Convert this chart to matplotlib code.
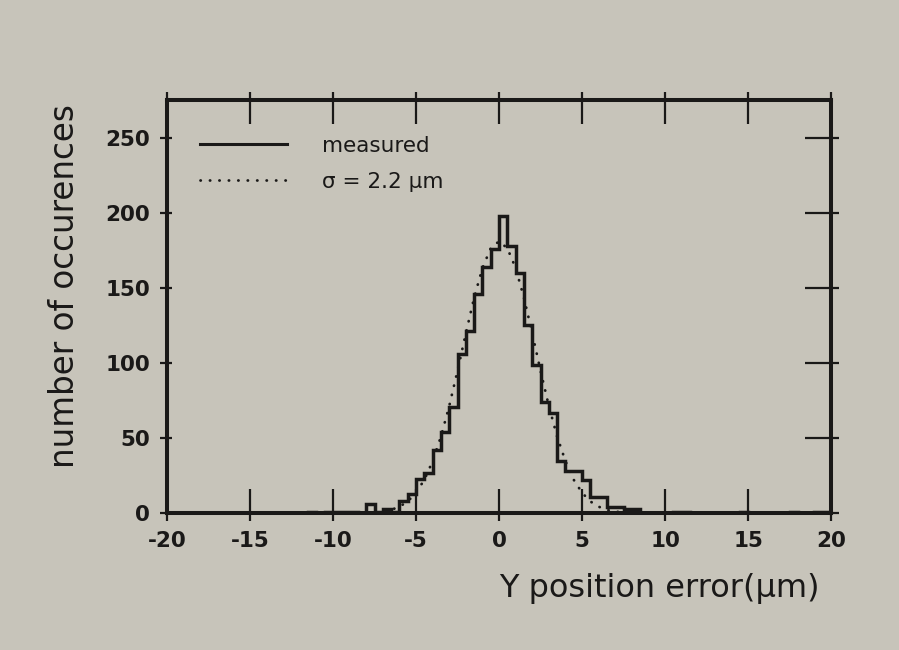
import matplotlib.pyplot as plt
import numpy as np
from matplotlib.ticker import FixedLocator
from matplotlib.lines import Line2D

plt.rcParams['font.family'] = ['DejaVu Sans']

# histogram, 0.5 um bins starting at -12 um
bin_width = 0.5
first_edge = -12.0
counts = [
    0, 1, 0, 1, 1, 1, 1, 0,            # -12.0 .. -8.5
    6, 1, 3, 1, 8, 13, 23, 27,         # -8.0 .. -4.5
    42, 54, 71, 106, 121, 146, 164, 176,  # -4.0 .. -0.5
    198, 178, 160, 125, 99, 74, 67, 35,   # 0.0 .. 3.5
    28, 28, 22, 11, 11, 4, 4, 3,       # 4.0 .. 7.5
    3, 0, 0, 0, 0, 1, 1, 0,            # 8.0 .. 11.5
    0, 0, 0, 0, 0, 1, 0, 0,            # 12.0 .. 15.5
    0, 0, 0, 1, 0, 0, 1, 1,            # 16.0 .. 19.5
]
edges = first_edge + bin_width * np.arange(len(counts) + 1)

# dotted fit curve, read every 0.5 um
gauss_x = np.arange(-8, 8.01, 0.5)
gauss_y = [0.2, 0.5, 1.2, 2.3, 4.4, 7.9, 13.7, 22.3, 34.7, 51.1, 71.4,
           94.9, 119.7, 143.5, 163.2, 176.4, 181.0, 176.4, 163.2, 143.5,
           119.7, 94.9, 71.4, 51.1, 34.7, 22.3, 13.7, 7.9, 4.4, 2.3,
           1.2, 0.5, 0.2]

xticks = [-20, -15, -10, -5, 0, 5, 10, 15, 20]
yticks = [0, 50, 100, 150, 200, 250]
legend_labels = ['measured', 'σ = 2.2 μm']

bg = '#c7c4ba'
ink = '#1a1918'

fig = plt.figure(figsize=(8.99, 6.5), dpi=100, facecolor=bg)
ax = fig.add_axes([0.1858, 0.2103, 0.7386, 0.6358])
ax.set_facecolor('none')

ax.stairs(counts, edges, baseline=0, color=ink, lw=2.5, zorder=3)
ax.plot(gauss_x, gauss_y, color=ink, lw=2.0, linestyle=(0, (0.1, 3.3)),
        dash_capstyle='round', zorder=2)

ax.set_xlim(-20, 20)
ax.set_ylim(0, 275)
for s in ax.spines.values():
    s.set_linewidth(2.9)
    s.set_color(ink)

ax2 = ax.twinx()
ax2.set_ylim(0, 275)
for s in ax2.spines.values():
    s.set_visible(False)

# x ticks: long inward, short outward
ax.set_xticks(xticks)
ax.set_xticklabels([str(t) for t in xticks], fontweight='bold', fontsize=15.5)
ax.xaxis.set_minor_locator(FixedLocator(xticks))
ax.xaxis.remove_overlapping_locs = False
ax.tick_params(axis='x', which='major', direction='in', length=17.5, width=1.6,
               top=True, bottom=True, pad=12.8, colors=ink)
ax.tick_params(axis='x', which='minor', direction='out', length=5.5, width=1.6,
               top=True, bottom=True, colors=ink)

# left y ticks: short both ways
ax.set_yticks(yticks)
ax.set_yticklabels([str(t) for t in yticks], fontweight='bold', fontsize=15.5)
ax.yaxis.set_minor_locator(FixedLocator(yticks))
ax.yaxis.remove_overlapping_locs = False
ax.tick_params(axis='y', which='major', direction='in', length=3.6, width=1.6,
               left=True, right=False, pad=12.2, colors=ink)
ax.tick_params(axis='y', which='minor', direction='out', length=4.8, width=1.6,
               left=True, right=False, colors=ink)

# right y ticks: long inward
ax2.set_yticks(yticks)
ax2.set_yticklabels([])
ax2.yaxis.set_minor_locator(FixedLocator(yticks))
ax2.yaxis.remove_overlapping_locs = False
ax2.tick_params(axis='y', which='major', direction='in', length=18.7, width=1.6,
                left=False, right=True, colors=ink)
ax2.tick_params(axis='y', which='minor', direction='out', length=6, width=1.6,
                left=False, right=True, colors=ink)

ax.set_xlabel('Y position error(μm)', fontsize=23, color=ink)
ax.xaxis.set_label_coords(0.741, -0.2025)
ax.xaxis.label.set_va('baseline')
ax.set_ylabel('number of occurences', fontsize=23.5, color=ink)
ax.yaxis.set_label_coords(-0.155, 0.549)
ax.yaxis.label.set_va('center')

handles = [Line2D([], [], color=ink, lw=2.2),
           Line2D([], [], color=ink, lw=2.0, linestyle=(0, (0.1, 3.3)),
                  dash_capstyle='round')]
leg = ax.legend(handles, legend_labels, loc='upper left',
                bbox_to_anchor=(0.0497, 0.913), frameon=False, fontsize=15.5,
                handlelength=4.04, handletextpad=1.63, labelspacing=0.73,
                borderpad=0, borderaxespad=0)
for t in leg.get_texts():
    t.set_color(ink)

fig.savefig('out.png', dpi=100, facecolor=bg)
